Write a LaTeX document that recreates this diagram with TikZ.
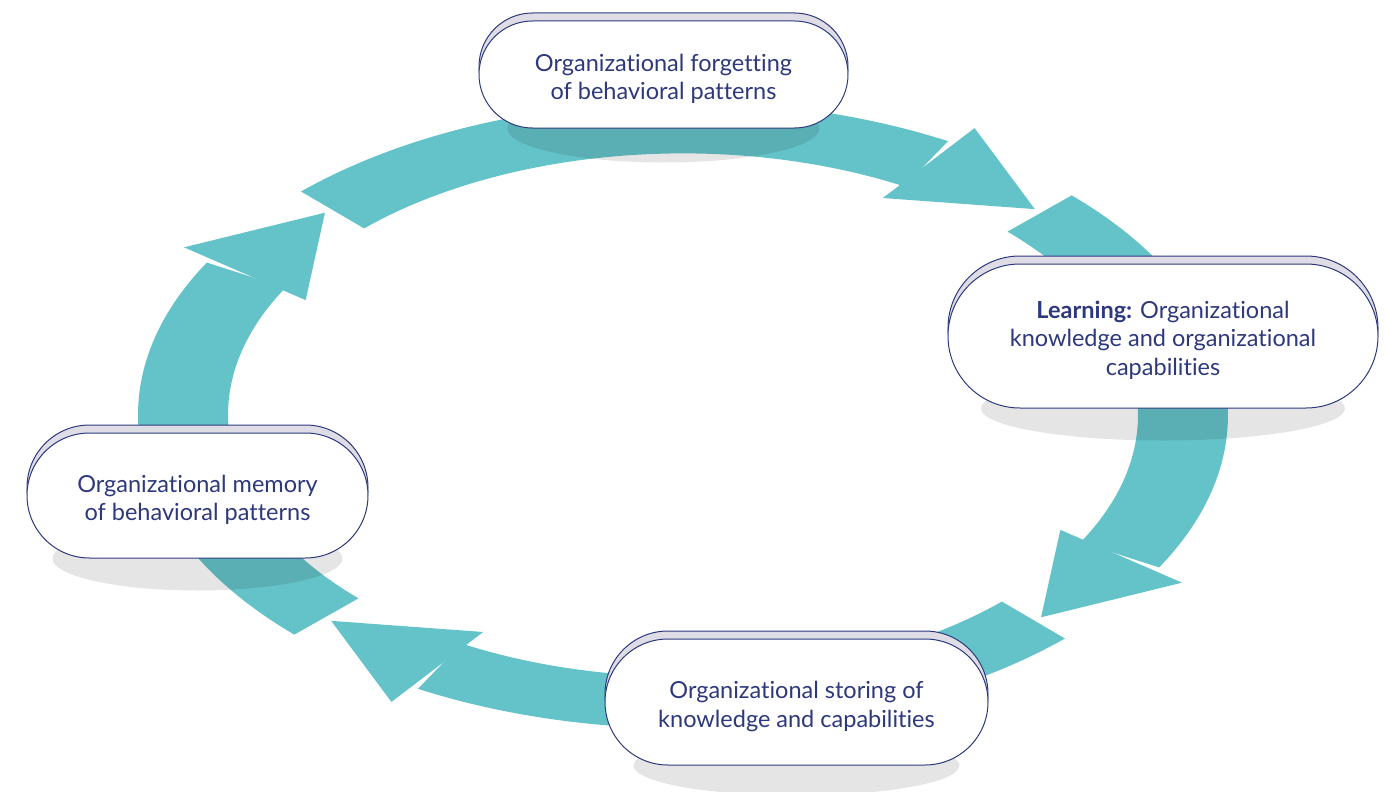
\documentclass[tikz,border=0pt]{standalone}
\usepackage{fontspec}
\setmainfont{Lato}[Ligatures={NoCommon,NoRare}]
\usetikzlibrary{shapes.misc,shadows}

\definecolor{loopteal}{RGB}{100,195,200}
\definecolor{inkblue}{RGB}{46,57,125}
\definecolor{rimgray}{RGB}{222,220,228}

\pgfdeclarelayer{ring}
\pgfdeclarelayer{floor}
\pgfsetlayers{ring,floor,main}

\begin{document}
\begin{tikzpicture}[x=1pt,y=-1pt]
      \tikzset{stage/.style={rounded rectangle,draw=inkblue,fill=white,line width=1pt,
          text=inkblue,align=center,inner sep=0pt,font=\fontsize{23.5}{28.5}\selectfont,
          copy shadow={shadow xshift=0pt,shadow yshift=8pt,fill=rimgray,draw=inkblue,line width=1pt}}}
      \tikzset{band/.style={fill=loopteal}}
      \tikzset{floor/.style={fill=black,opacity=0.1}}
      \def\rin{455}
      \def\rout{545}
      \def\up{\rule{0pt}{26pt}}

      \useasboundingbox (0,0) rectangle (1385,792);

      \node[stage,minimum width=369pt,minimum height=107pt] (forget) at (663.5,74.5)
        {\up Organizational forgetting\\of behavioral patterns};
      \node[stage,minimum width=430pt,minimum height=144pt] (learn) at (1163,336)
        {\up\textbf{Learning:} Organizational\\knowledge and organizational\\capabilities};
      \node[stage,minimum width=383pt,minimum height=126pt] (store) at (796.5,702)
        {\up Organizational storing of\\knowledge and capabilities};
      \node[stage,minimum width=341pt,minimum height=125pt] (memory) at (197.5,495.5)
        {\up Organizational memory\\of behavioral patterns};

      % flat shadows under the stages
      \begin{pgfonlayer}{floor}
        \fill[floor] (forget.south) ellipse[x radius=156,y radius=34];
        \fill[floor] (learn.south) ellipse[x radius=182,y radius=32];
        \fill[floor] (store.south) ellipse[x radius=163,y radius=30];
        \fill[floor] (memory.south) ellipse[x radius=145,y radius=32];
      \end{pgfonlayer}

      % the cycle: four curved arrows on a tilted ring
      \begin{pgfonlayer}{ring}
        \begin{scope}[shift={(683,415)},yscale=-0.575]
          \foreach \t/\a in {134.5/45.5,44.5/-44.5,-45.5/-134.5,224.5/135.5}{
            \pgfmathsetmacro\b{\a+15.4}
            \fill[band] (\t:\rout) arc[start angle=\t,end angle=\b,radius=\rout]
              -- (\b:\rin) arc[start angle=\b,end angle=\t,radius=\rin] -- cycle;
            \fill[band] (\a+16.6:427) -- (\a+14.2:578) -- (\a:502) -- cycle;
          }
        \end{scope}
      \end{pgfonlayer}
\end{tikzpicture}
\end{document}
